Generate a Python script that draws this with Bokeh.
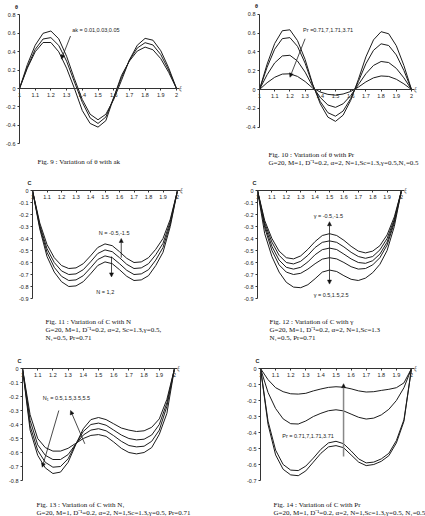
from bokeh.plotting import figure
from bokeh.models import Range1d, LinearAxis, FixedTicker, CustomJSTickFormatter, Arrow, NormalHead
from bokeh.core.properties import value
from bokeh.embed import file_html
from bokeh.resources import INLINE

W, H = 425, 516

# axial coordinate xi
XI = [1.00, 1.05, 1.10, 1.15, 1.20, 1.25, 1.30, 1.35, 1.40, 1.45, 1.50,
      1.55, 1.60, 1.65, 1.70, 1.75, 1.80, 1.85, 1.90, 1.95, 2.00]
X_TICKS = [1, 1.1, 1.2, 1.3, 1.4, 1.5, 1.6, 1.7, 1.8, 1.9, 2]

# Fig. 9 : theta for ak = 0.01, 0.03, 0.05
THETA_AK_1 = [0, 0.26, 0.47, 0.60, 0.625, 0.54, 0.35, 0.105, -0.12, -0.28, -0.34,
              -0.28, -0.12, 0.09, 0.31, 0.47, 0.545, 0.525, 0.41, 0.225, 0]
THETA_AK_2 = [0, 0.233, 0.425, 0.538, 0.553, 0.468, 0.297, 0.07, -0.15, -0.32, -0.38,
              -0.31, -0.10, 0.12, 0.307, 0.44, 0.498, 0.473, 0.368, 0.201, 0]
THETA_AK_3 = [0, 0.221, 0.399, 0.50, 0.50, 0.399, 0.221, 0, -0.24, -0.38, -0.42,
              -0.35, -0.10, 0.143, 0.298, 0.407, 0.45, 0.421, 0.324, 0.176, 0]
THETA_AK_TICKS = [-0.6, -0.4, -0.2, 0, 0.2, 0.4, 0.6, 0.8]

# Fig. 10 : theta for Pr = 0.71, 7, 1.71, 3.71
THETA_PR_1 = [0, 0.27, 0.49, 0.625, 0.635, 0.52, 0.32, 0.056, -0.153, -0.294, -0.339,
              -0.273, -0.116, 0.105, 0.347, 0.528, 0.615, 0.593, 0.466, 0.255, 0]
THETA_PR_2 = [0, 0.237, 0.429, 0.541, 0.552, 0.459, 0.28, 0.049, -0.128, -0.247, -0.284,
              -0.229, -0.097, 0.083, 0.274, 0.417, 0.486, 0.468, 0.368, 0.202, 0]
THETA_PR_3 = [0, 0.157, 0.283, 0.357, 0.364, 0.303, 0.185, 0.032, -0.085, -0.165, -0.19,
              -0.152, -0.065, 0.051, 0.168, 0.256, 0.298, 0.287, 0.225, 0.124, 0]
THETA_PR_4 = [0, 0.072, 0.13, 0.164, 0.167, 0.139, 0.085, 0.015, -0.027, -0.052, -0.06,
              -0.048, -0.021, 0.025, 0.081, 0.124, 0.144, 0.139, 0.109, 0.06, 0]
THETA_PR_TICKS = [-0.4, -0.2, 0, 0.2, 0.4, 0.6, 0.8]

# Fig. 11 : C for several N
C_N_1 = [0, -0.27, -0.45, -0.56, -0.625, -0.65, -0.645, -0.61, -0.545, -0.475, -0.445,
         -0.46, -0.51, -0.565, -0.60, -0.595, -0.56, -0.49, -0.40, -0.24, 0]
C_N_2 = [0, -0.29, -0.485, -0.60, -0.67, -0.70, -0.695, -0.66, -0.595, -0.525, -0.495,
         -0.51, -0.56, -0.615, -0.65, -0.645, -0.61, -0.535, -0.44, -0.26, 0]
C_N_3 = [0, -0.305, -0.515, -0.64, -0.715, -0.75, -0.745, -0.71, -0.645, -0.575, -0.545,
         -0.56, -0.61, -0.665, -0.70, -0.695, -0.66, -0.58, -0.475, -0.28, 0]
C_N_4 = [0, -0.32, -0.55, -0.68, -0.76, -0.80, -0.795, -0.76, -0.695, -0.625, -0.595,
         -0.61, -0.66, -0.715, -0.75, -0.745, -0.71, -0.625, -0.515, -0.30, 0]

# Fig. 12 : C for several gamma
C_G_1 = [0, -0.25, -0.40, -0.505, -0.56, -0.57, -0.545, -0.49, -0.425, -0.375, -0.36,
         -0.375, -0.415, -0.465, -0.505, -0.52, -0.505, -0.46, -0.37, -0.22, 0]
C_G_2 = [0, -0.27, -0.43, -0.54, -0.60, -0.612, -0.59, -0.54, -0.475, -0.432, -0.42,
         -0.432, -0.47, -0.515, -0.55, -0.565, -0.55, -0.495, -0.40, -0.24, 0]
C_G_3 = [0, -0.29, -0.465, -0.58, -0.64, -0.655, -0.64, -0.595, -0.535, -0.493, -0.48,
         -0.492, -0.53, -0.57, -0.60, -0.607, -0.585, -0.53, -0.43, -0.255, 0]
C_G_4 = [0, -0.31, -0.50, -0.62, -0.68, -0.70, -0.69, -0.655, -0.61, -0.572, -0.56,
         -0.57, -0.60, -0.635, -0.655, -0.65, -0.62, -0.56, -0.455, -0.27, 0]
C_G_5 = [0, -0.36, -0.55, -0.68, -0.765, -0.805, -0.81, -0.785, -0.735, -0.68, -0.663,
         -0.675, -0.71, -0.74, -0.75, -0.73, -0.685, -0.615, -0.50, -0.30, 0]
C_TICKS_9 = [-0.9, -0.8, -0.7, -0.6, -0.5, -0.4, -0.3, -0.2, -0.1, 0]

# Fig. 13 : C for N1 = 0.5, 1.5, 3.5, 5.5
C_N1_1 = [0, -0.44, -0.62, -0.71, -0.75, -0.74, -0.67, -0.545, -0.43, -0.365, -0.35,
          -0.365, -0.395, -0.425, -0.44, -0.45, -0.445, -0.42, -0.36, -0.22, 0]
C_N1_2 = [0, -0.41, -0.585, -0.67, -0.705, -0.70, -0.645, -0.54, -0.45, -0.40, -0.39,
          -0.405, -0.44, -0.475, -0.50, -0.51, -0.505, -0.475, -0.40, -0.245, 0]
C_N1_3 = [0, -0.37, -0.545, -0.62, -0.65, -0.65, -0.615, -0.54, -0.475, -0.44, -0.43,
          -0.445, -0.48, -0.52, -0.55, -0.56, -0.555, -0.52, -0.44, -0.27, 0]
C_N1_4 = [0, -0.33, -0.50, -0.565, -0.59, -0.59, -0.57, -0.535, -0.50, -0.478, -0.472,
          -0.485, -0.525, -0.57, -0.60, -0.61, -0.60, -0.565, -0.47, -0.32, 0]
C_TICKS_8 = [-0.8, -0.7, -0.6, -0.5, -0.4, -0.3, -0.2, -0.1, 0]

# Fig. 14 : C for Pr = 0.71, 7, 1.71, 3.71
C_PR_1 = [0, -0.07, -0.12, -0.145, -0.158, -0.16, -0.155, -0.14, -0.128, -0.118, -0.114,
          -0.117, -0.127, -0.14, -0.147, -0.145, -0.137, -0.13, -0.12, -0.09, 0]
C_PR_2 = [0, -0.15, -0.25, -0.315, -0.345, -0.347, -0.328, -0.30, -0.28, -0.264, -0.258,
          -0.265, -0.285, -0.305, -0.316, -0.31, -0.29, -0.255, -0.20, -0.12, 0]
C_PR_3 = [0, -0.33, -0.51, -0.60, -0.635, -0.638, -0.61, -0.56, -0.505, -0.465, -0.455,
          -0.47, -0.515, -0.565, -0.59, -0.585, -0.565, -0.53, -0.45, -0.32, 0]
C_PR_4 = [0, -0.35, -0.54, -0.63, -0.665, -0.67, -0.64, -0.585, -0.53, -0.49, -0.482,
          -0.495, -0.54, -0.585, -0.607, -0.60, -0.58, -0.545, -0.465, -0.33, 0]
C_TICKS_7 = [-0.7, -0.6, -0.5, -0.4, -0.3, -0.2, -0.1, 0]

INK = "#1c1c1c"
SANS = "Liberation Sans"
SERIF = "Liberation Serif"

p = figure(width=W, height=H, x_range=Range1d(0, W), y_range=Range1d(H, 0),
           min_border=0, toolbar_location=None, x_axis_location=None,
           y_axis_location=None, output_backend="svg", outline_line_color=None)
p.grid.grid_line_color = None
p.background_fill_color = "white"
p.border_fill_color = "white"

fmt = CustomJSTickFormatter(code="return String(Math.round(tick * 10) / 10)")


def style_axis(ax):
    ax.axis_line_color = "#333333"
    ax.axis_line_width = 1
    ax.major_tick_line_color = "#333333"
    ax.major_tick_in = 0
    ax.major_tick_out = 2
    ax.minor_tick_line_color = None
    ax.major_label_text_font = SANS
    ax.major_label_text_font_size = "5.5px"
    ax.major_label_text_color = "#222222"
    ax.major_label_standoff = 2


def panel(key, frame, y_bounds, y_ticks, curves, y_name):
    """One small chart: frame = (pixel of xi=1, pixel of xi=2, pixel of 0, pixels per unit)."""
    x1, x2, y0, ppu = frame
    s = x2 - x1
    xr, yr = key + "_x", key + "_y"
    p.extra_x_ranges[xr] = Range1d(1 - x1 / s, 1 + (W - x1) / s)
    p.extra_y_ranges[yr] = Range1d(-(H - y0) / ppu, y0 / ppu)

    xa = LinearAxis(x_range_name=xr, y_range_name=yr, fixed_location=0, bounds=(1, 2.02),
                    ticker=FixedTicker(ticks=X_TICKS), formatter=fmt)
    style_axis(xa)
    p.add_layout(xa, "below")
    ya = LinearAxis(x_range_name=xr, y_range_name=yr, fixed_location=1, bounds=y_bounds,
                    ticker=FixedTicker(ticks=y_ticks), formatter=fmt)
    style_axis(ya)
    p.add_layout(ya, "left")

    for ys in curves:
        p.line(XI, ys, x_range_name=xr, y_range_name=yr, line_color=INK, line_width=1)

    # variable names at the axis ends
    p.text(x=[1 - 3 / s], y=[y_bounds[1] + 8 / ppu], text=[y_name], x_range_name=xr,
           y_range_name=yr, text_font=value(SANS), text_font_style="bold",
           text_font_size="5.5px", text_align="center", text_baseline="middle",
           text_color="#222222")
    p.text(x=[2 + 4 / s], y=[1 / ppu], text=["ξ"], x_range_name=xr, y_range_name=yr,
           text_font=value(SERIF), text_font_style="italic", text_font_size="5.5px",
           text_align="center", text_baseline="middle", text_color="#222222")
    return xr, yr


def note(rng, x, y, txt):
    p.text(x=[x], y=[y], text=[txt], x_range_name=rng[0], y_range_name=rng[1],
           text_font=value(SANS), text_font_size="5.5px", text_align="left",
           text_baseline="middle", text_color="#222222")


def arrow(rng, xs, ys, xe, ye, both=False, color=INK, width=0.8):
    head = dict(size=4, fill_color="#111111", line_color="#111111", line_width=0.5)
    a = Arrow(x_start=xs, y_start=ys, x_end=xe, y_end=ye, x_range_name=rng[0],
              y_range_name=rng[1], line_color=color, line_width=width,
              end=NormalHead(**head), start=NormalHead(**head) if both else None)
    p.add_layout(a)


def caption(x, y, lines):
    p.text(x=[x] * len(lines), y=[y + 8 * i for i in range(len(lines))], text=lines,
           text_font=value(SERIF), text_font_size="7px", text_align="left",
           text_baseline="middle", text_color="#111111")


# Fig. 9
r9 = panel("f9", (19, 176, 88, 92), (-0.6, 0.8), THETA_AK_TICKS,
           [THETA_AK_1, THETA_AK_2, THETA_AK_3], "θ")
note(r9, 1.336, 0.638, "ak = 0.01,0.03,0.05")
arrow(r9, 1.325, 0.57, 1.267, 0.32)
caption(37, 161, ["Fig. 9 : Variation of θ with ak"])

# Fig. 10
r10 = panel("f10", (259, 411, 89, 94), (-0.4, 0.8), THETA_PR_TICKS,
            [THETA_PR_1, THETA_PR_2, THETA_PR_3, THETA_PR_4], "θ")
note(r10, 1.287, 0.637, "Pr =0.71,7,1.71,3.71")
arrow(r10, 1.30, 0.54, 1.20, 0.13)
caption(268, 154, ["Fig. 10 : Variation of θ with Pr",
                   "G=20, M=1, D⁻¹=0.2, α=2, N=1,Sc=1.3,γ=0.5,N₁=0.5"])

# Fig. 11
r11 = panel("f11", (32, 177, 190, 120), (-0.9, 0), C_TICKS_9,
            [C_N_1, C_N_2, C_N_3, C_N_4], "C")
note(r11, 1.457, -0.352, "N = -0.5,-1.5")
arrow(r11, 1.612, -0.56, 1.612, -0.40)
arrow(r11, 1.545, -0.55, 1.545, -0.72)
note(r11, 1.44, -0.842, "N = 1,2")
caption(45, 321, ["Fig. 11 : Variation of C with N",
                  "G=20, M=1, D⁻¹=0.2,  α=2, Sc=1.3,γ=0.5,",
                  "N₁=0.5, Pr=0.71"])

# Fig. 12
r12 = panel("f12", (257, 401, 190, 120), (-0.9, 0), C_TICKS_9,
            [C_G_1, C_G_2, C_G_3, C_G_4, C_G_5], "C")
note(r12, 1.39, -0.214, "γ = -0.5,-1.5")
arrow(r12, 1.5, -0.78, 1.5, -0.26, both=True)
note(r12, 1.39, -0.87, "γ = 0.5,1.5,2.5")
caption(269, 321, ["Fig. 12 : Variation of C with γ",
                   "G=20, M=1, D⁻¹=0.2, α=2, N=1,Sc=1.3",
                   "N₁=0.5, Pr=0.71"])

# Fig. 13
r13 = panel("f13", (22, 174, 368, 140), (-0.8, 0), C_TICKS_8,
            [C_N1_1, C_N1_2, C_N1_3, C_N1_4], "C")
note(r13, 1.134, -0.209, "N₁ = 0.5,1.5,3.5,5.5")
arrow(r13, 1.239, -0.30, 1.13, -0.705)
arrow(r13, 1.41, -0.538, 1.316, -0.30)
caption(36, 504, ["Fig. 13 : Variation of C with N₁",
                  "G=20, M=1, D⁻¹=0.2, α=2, N=1,Sc=1.3,γ=0.5, Pr=0.71"])

# Fig. 14
r14 = panel("f14", (260, 411, 368, 160), (-0.7, 0), C_TICKS_7,
            [C_PR_1, C_PR_2, C_PR_3, C_PR_4], "C")
note(r14, 1.144, -0.419, "Pr = 0.71,7,1.71,3.71")
arrow(r14, 1.55, -0.55, 1.55, -0.095, color="#888888", width=1.5)
caption(273, 504, ["Fig. 14 : Variation of C with Pr",
                   "G=20, M=1, D⁻¹=0.2, α=2, N=1,Sc=1.3,γ=0.5, N₁=0.5"])

open("out.html", "w").write(file_html(p, INLINE))
